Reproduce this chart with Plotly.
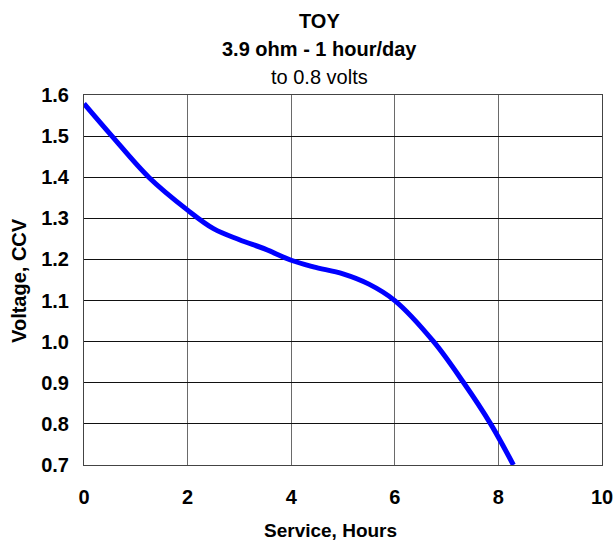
import plotly.graph_objects as go

hours = [0.0, 0.54, 1.25, 2.0, 2.5, 3.0, 3.5, 4.0, 4.43, 5.0, 5.5, 6.0, 6.75, 7.33, 7.85, 8.29]
volts = [1.579, 1.50, 1.40, 1.32, 1.275, 1.248, 1.225, 1.198, 1.182, 1.165, 1.14, 1.10, 1.00, 0.90, 0.80, 0.70]

x_ticks = [0, 2, 4, 6, 8, 10]
y_ticks = [0.7, 0.8, 0.9, 1.0, 1.1, 1.2, 1.3, 1.4, 1.5, 1.6]
y_tick_text = [f"{v:.1f}" for v in y_ticks]

FONT = "Liberation Sans, Arial, sans-serif"

fig = go.Figure()
fig.add_trace(go.Scatter(x=hours, y=volts, mode="lines",
                         line=dict(color="#0000ff", width=5, shape="spline", smoothing=1.0),
                         showlegend=False, hoverinfo="skip"))

W = 517.5
H = 370.0
def px(xpx):
    return (xpx - 84.3) / W
def py(ypx):
    return (464.7 - ypx) / H

fig.update_layout(
    width=616, height=542,
    margin=dict(l=84, r=14, t=95, b=77, autoexpand=False),
    paper_bgcolor="white", plot_bgcolor="white",
    font=dict(family=FONT, color="black"),
    xaxis=dict(range=[0, 10], tickvals=x_ticks, showgrid=True, gridcolor="#6a6a6a", gridwidth=1,
               showline=True, linecolor="#444", linewidth=1, mirror=True, zeroline=False, automargin=False,
               tickfont=dict(size=20, family=FONT, weight="bold"), ticks="", ticklabelstandoff=14),
    yaxis=dict(range=[0.7, 1.6], tickvals=y_ticks, ticktext=y_tick_text, showgrid=True, gridcolor="#111", gridwidth=1,
               showline=True, linecolor="#444", linewidth=1, mirror=True, zeroline=False, automargin=False,
               tickfont=dict(size=20, family=FONT, weight="bold"), ticks="", ticklabelstandoff=10),
    annotations=[
        dict(text="<b>TOY</b>", x=px(320), y=py(21), xref="paper", yref="paper", showarrow=False,
             font=dict(size=20, family=FONT), xanchor="center", yanchor="middle"),
        dict(text="<b>3.9 ohm - 1 hour/day</b>", x=px(320), y=py(49), xref="paper", yref="paper", showarrow=False,
             font=dict(size=20, family=FONT), xanchor="center", yanchor="middle"),
        dict(text="to 0.8 volts", x=px(320), y=py(77), xref="paper", yref="paper", showarrow=False,
             font=dict(size=20, family=FONT), xanchor="center", yanchor="middle"),
        dict(text="<b>Service, Hours</b>", x=px(331), y=py(530), xref="paper", yref="paper", showarrow=False,
             font=dict(size=19, family=FONT), xanchor="center", yanchor="middle"),
        dict(text="<b>Voltage, CCV</b>", x=px(20), y=py(280), xref="paper", yref="paper", showarrow=False,
             textangle=-90, font=dict(size=20, family=FONT), xanchor="center", yanchor="middle"),
    ],
)

fig.write_html("out.html", config={"displayModeBar": False},
               post_script="document.body.style.margin='0';document.body.style.overflow='hidden';")
